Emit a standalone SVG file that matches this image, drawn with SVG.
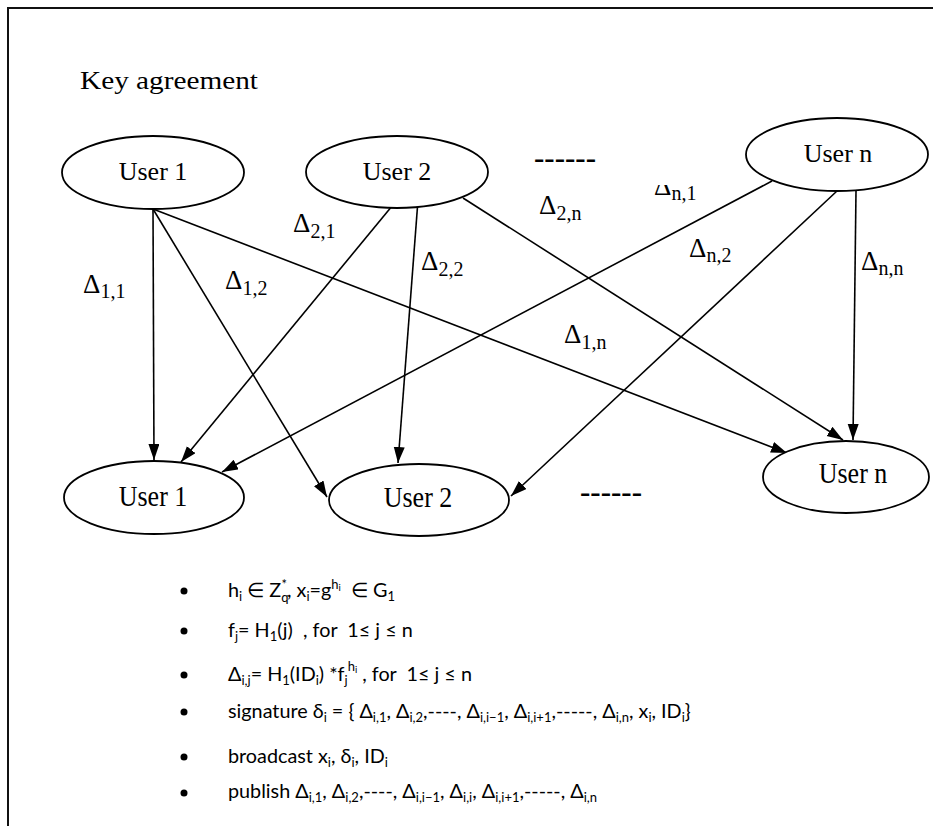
<svg xmlns="http://www.w3.org/2000/svg" width="933" height="826" viewBox="0 0 933 826">
  <defs>
    <style>
      .frame { fill: none; stroke: #111; stroke-width: 2; }
      .node ellipse { fill: #fff; stroke: #000; stroke-width: 1.8; }
      .lbl { font-family: "Liberation Serif", "Times New Roman", serif; font-size: 26px; fill: #000; }
      .delta { font-family: "Liberation Serif", "Times New Roman", serif; font-size: 27px; fill: #000; }
      .delta .d { font-size: 20px; }
      .dash { font-family: "Liberation Serif", serif; font-size: 30px; font-weight: bold; fill: #000; }
      .edges line { stroke: #000; stroke-width: 1.6; marker-end: url(#arrow); }
      .note { font-family: Lato, "Liberation Sans", Arial, sans-serif; font-size: 19.8px; fill: #000; }
      .note .s { font-size: 13px; }
      .note .ss { font-size: 9.5px; }
    </style>
    <marker id="arrow" markerUnits="userSpaceOnUse" markerWidth="17" markerHeight="12" refX="16" refY="5.5" orient="auto">
      <path d="M0,0 L16,5.5 L0,11 z" fill="#000"/>
    </marker>
    <clipPath id="cutTop">
      <rect x="600" y="185" width="120" height="40"/>
    </clipPath>
  </defs>

  <rect width="933" height="826" fill="#fff"/>
  <!-- page border (open to the right and bottom) -->
  <path class="frame" d="M8,830 V8 H940"/>

  <text class="lbl" x="80" y="89" textLength="178" lengthAdjust="spacingAndGlyphs">Key agreement</text>

  <!-- connectors -->
  <g class="edges" id="edges">
    <line x1="153" y1="209" x2="154" y2="460"/>
    <line x1="153" y1="209" x2="327" y2="497"/>
    <line x1="153" y1="209" x2="787" y2="453"/>
    <line x1="397" y1="200" x2="181" y2="462"/>
    <line x1="418" y1="200" x2="398" y2="463"/>
    <line x1="463" y1="198" x2="843" y2="440"/>
    <line x1="772" y1="181" x2="222" y2="472"/>
    <line x1="837" y1="191" x2="511" y2="496"/>
    <line x1="856" y1="191" x2="853" y2="440"/>
  </g>

  <!-- senders -->
  <g class="node" id="src-user1">
    <ellipse cx="153" cy="172.5" rx="91" ry="36.5"/>
    <text class="lbl" x="153" y="180" text-anchor="middle">User 1</text>
  </g>
  <g class="node" id="src-user2">
    <ellipse cx="397" cy="172" rx="91" ry="36"/>
    <text class="lbl" x="397" y="180" text-anchor="middle">User 2</text>
  </g>
  <g class="node" id="src-usern">
    <ellipse cx="837" cy="154.5" rx="91" ry="36.5"/>
    <text class="lbl" x="838" y="162" text-anchor="middle">User n</text>
  </g>

  <!-- receivers -->
  <g class="node" id="dst-user1">
    <ellipse cx="154" cy="497.5" rx="90" ry="36.5"/>
    <text class="lbl" text-anchor="middle" transform="translate(153 506) scale(1 1.14)">User 1</text>
  </g>
  <g class="node" id="dst-user2">
    <ellipse cx="419" cy="500" rx="90" ry="36"/>
    <text class="lbl" text-anchor="middle" transform="translate(418 507) scale(1 1.14)">User 2</text>
  </g>
  <g class="node" id="dst-usern">
    <ellipse cx="846" cy="477" rx="83" ry="36"/>
    <text class="lbl" text-anchor="middle" transform="translate(853 483) scale(1 1.14)">User n</text>
  </g>

  <!-- ellipsis between users -->
  <text class="dash" x="534" y="168" textLength="62" lengthAdjust="spacingAndGlyphs">------</text>
  <text class="dash" x="580" y="502" textLength="62" lengthAdjust="spacingAndGlyphs">------</text>

  <!-- edge labels -->
  <g id="edge-labels">
    <text class="delta" x="83" y="293">Δ<tspan class="d" dy="5">1,1</tspan></text>
    <text class="delta" x="225" y="289">Δ<tspan class="d" dy="6">1,2</tspan></text>
    <text class="delta" x="564" y="343">Δ<tspan class="d" dy="6">1,n</tspan></text>
    <text class="delta" x="293" y="232">Δ<tspan class="d" dy="6">2,1</tspan></text>
    <text class="delta" x="421" y="270">Δ<tspan class="d" dy="6">2,2</tspan></text>
    <text class="delta" x="539" y="214">Δ<tspan class="d" dy="6">2,n</tspan></text>
    <text class="delta" x="654" y="195" clip-path="url(#cutTop)">Δ<tspan class="d" dy="5">n,1</tspan></text>
    <text class="delta" x="689" y="257">Δ<tspan class="d" dy="5">n,2</tspan></text>
    <text class="delta" x="861" y="270">Δ<tspan class="d" dy="5">n,n</tspan></text>
  </g>

  <!-- protocol steps -->
  <g id="steps" fill="#000">
    <circle cx="184" cy="591" r="3.5"/>
    <circle cx="184" cy="631" r="3.5"/>
    <circle cx="184" cy="675" r="3.5"/>
    <circle cx="184" cy="712" r="3.5"/>
    <circle cx="184" cy="757" r="3.5"/>
    <circle cx="184" cy="793" r="3.5"/>

    <text class="note" x="228" y="597" xml:space="preserve">h<tspan class="s" dy="4">i</tspan><tspan dy="-4"> ∈ Z</tspan><tspan class="s" dy="5">q</tspan><tspan class="s" dx="-7" dy="-13">*</tspan><tspan dy="8">, x</tspan><tspan class="s" dy="4">i</tspan><tspan dy="-4">=g</tspan><tspan class="s" dy="-8">h</tspan><tspan class="ss" dy="2">i</tspan><tspan dy="6">  ∈ G</tspan><tspan class="s" dy="4">1</tspan></text>

    <text class="note" x="228" y="637" xml:space="preserve">f<tspan class="s" dy="4">j</tspan><tspan dy="-4">= H</tspan><tspan class="s" dy="4">1</tspan><tspan dy="-4">(j)  , for  1≤ j ≤ n</tspan></text>

    <text class="note" x="228" y="681" xml:space="preserve">Δ<tspan class="s" dy="4">i,j</tspan><tspan dy="-4">= H</tspan><tspan class="s" dy="4">1</tspan><tspan dy="-4">(ID</tspan><tspan class="s" dy="4">i</tspan><tspan dy="-4">) *f</tspan><tspan class="s" dy="4">j</tspan><tspan class="s" dy="-14">h</tspan><tspan class="ss" dy="2">i</tspan><tspan dy="8"> , for  1≤ j ≤ n</tspan></text>

    <text class="note" x="228" y="718" xml:space="preserve">signature δ<tspan class="s" dy="4">i</tspan><tspan dy="-4"> = { Δ</tspan><tspan class="s" dy="4">i,1</tspan><tspan dy="-4">, Δ</tspan><tspan class="s" dy="4">i,2</tspan><tspan dy="-4">,----, Δ</tspan><tspan class="s" dy="4">i,i−1</tspan><tspan dy="-4">, Δ</tspan><tspan class="s" dy="4">i,i+1</tspan><tspan dy="-4">,-----, Δ</tspan><tspan class="s" dy="4">i,n</tspan><tspan dy="-4">, x</tspan><tspan class="s" dy="4">i</tspan><tspan dy="-4">, ID</tspan><tspan class="s" dy="4">i</tspan><tspan dy="-4">}</tspan></text>

    <text class="note" x="228" y="763" xml:space="preserve">broadcast x<tspan class="s" dy="4">i</tspan><tspan dy="-4">, δ</tspan><tspan class="s" dy="4">i</tspan><tspan dy="-4">, ID</tspan><tspan class="s" dy="4">i</tspan></text>

    <text class="note" x="228" y="798" xml:space="preserve">publish Δ<tspan class="s" dy="4">i,1</tspan><tspan dy="-4">, Δ</tspan><tspan class="s" dy="4">i,2</tspan><tspan dy="-4">,----, Δ</tspan><tspan class="s" dy="4">i,i−1</tspan><tspan dy="-4">, Δ</tspan><tspan class="s" dy="4">i,i</tspan><tspan dy="-4">, Δ</tspan><tspan class="s" dy="4">i,i+1</tspan><tspan dy="-4">,-----, Δ</tspan><tspan class="s" dy="4">i,n</tspan></text>
  </g>
</svg>
